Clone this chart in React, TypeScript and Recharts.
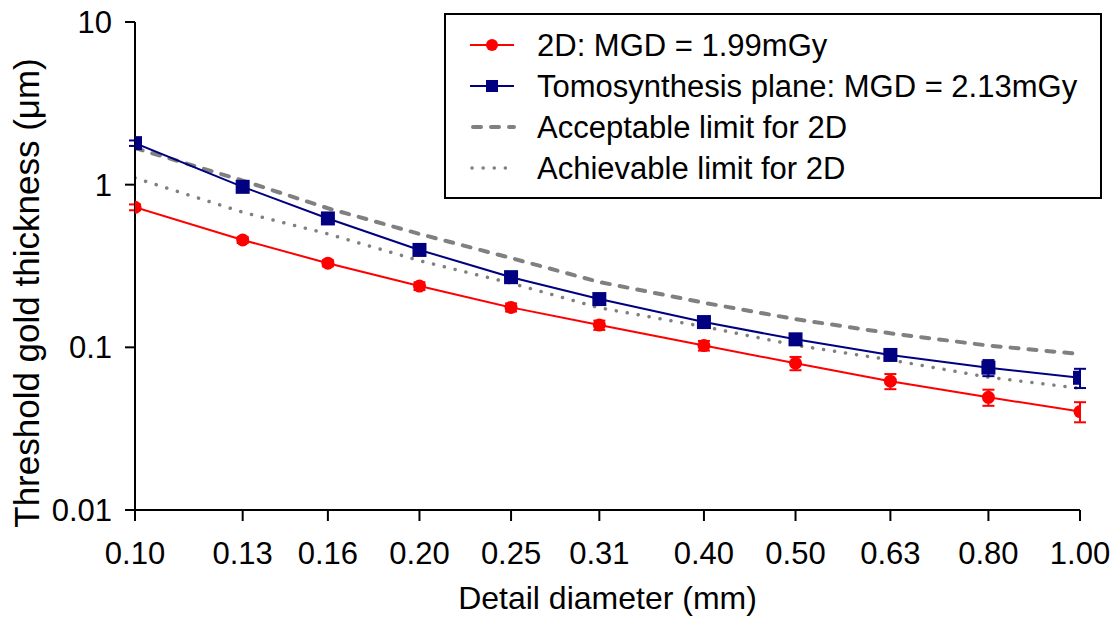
import React from 'react';
import { LineChart, Line, XAxis, YAxis, ErrorBar, Label } from 'recharts';

const diameters = [0.10, 0.13, 0.16, 0.20, 0.25, 0.31, 0.40, 0.50, 0.63, 0.80, 1.00];
const twoD = [0.726, 0.457, 0.329, 0.238, 0.176, 0.137, 0.1025, 0.0798, 0.0619, 0.0493, 0.0403];
const twoDErr = [0.03, 0.019, 0.014, 0.013, 0.010, 0.009, 0.007, 0.0075, 0.0066, 0.0056, 0.0057];
const tomo = [1.80, 0.97, 0.62, 0.397, 0.270, 0.198, 0.143, 0.112, 0.0898, 0.075, 0.065];
const tomoErr = [0.07, 0.04, 0.025, 0.016, 0.011, 0.0085, 0.0075, 0.0063, 0.0064, 0.0085, 0.0088];
const acceptable = [1.68, 1.06, 0.716, 0.498, 0.354, 0.252, 0.188, 0.149, 0.122, 0.1025, 0.091];
const achievable = [1.10, 0.677, 0.498, 0.341, 0.248, 0.175, 0.134, 0.103, 0.0837, 0.0655, 0.056];
const xTicks = [0.10, 0.13, 0.16, 0.20, 0.25, 0.31, 0.40, 0.50, 0.63, 0.80, 1.00];
const yTicks = [0.01, 0.1, 1, 10];

const legendNames = [
  '2D: MGD = 1.99mGy',
  'Tomosynthesis plane: MGD = 2.13mGy',
  'Acceptable limit for 2D',
  'Achievable limit for 2D',
];

const data = diameters.map((d, i) => ({
  d,
  twoD: twoD[i],
  twoDErr: twoDErr[i],
  tomo: tomo[i],
  tomoErr: tomoErr[i],
  acceptable: acceptable[i],
  achievable: achievable[i],
}));

const FONT = '"Liberation Sans", Arial, sans-serif';
const RED = '#FF0000';
const NAVY = '#000080';
const GRAY = '#808080';

const SquareDot = (props: any) => {
  const { cx, cy, index } = props;
  if (cx == null || cy == null) return null;
  return <rect key={`sq-${index}`} x={cx - 7} y={cy - 7} width={14} height={14} fill={NAVY} />;
};

const LEG_X = 445;
const LEG_Y = 14;
const LEG_W = 656;
const LEG_H = 184;
const ROW0 = 45;
const ROW_STEP = 41;

const LegendSvg = () => (
  <g>
    <rect x={LEG_X} y={LEG_Y} width={LEG_W} height={LEG_H} fill="#fff" stroke="#000" strokeWidth={2} />
    {legendNames.map((n, i) => {
      const y = ROW0 + i * ROW_STEP;
      const x1 = 470;
      const x2 = 514;
      let icon: React.ReactNode = null;
      if (i === 0) {
        icon = (
          <g>
            <line x1={x1} y1={y} x2={x2} y2={y} stroke={RED} strokeWidth={2} />
            <circle cx={492} cy={y} r={6} fill={RED} />
          </g>
        );
      } else if (i === 1) {
        icon = (
          <g>
            <line x1={x1} y1={y} x2={x2} y2={y} stroke={NAVY} strokeWidth={2} />
            <rect x={486} y={y - 6} width={12} height={12} fill={NAVY} />
          </g>
        );
      } else if (i === 2) {
        icon = (
          <line x1={x1 + 3} y1={y} x2={x2} y2={y} stroke={GRAY} strokeWidth={4} strokeDasharray="8 10" strokeLinecap="round" />
        );
      } else {
        icon = (
          <line x1={x1 + 2} y1={y} x2={x2} y2={y} stroke={GRAY} strokeWidth={3.5} strokeDasharray="0.1 11" strokeLinecap="round" />
        );
      }
      return (
        <g key={n}>
          {icon}
          <text
            x={537}
            y={y}
            dominantBaseline="central"
            style={{ fill: '#000', fontSize: 31, fontFamily: FONT }}
          >
            {n}
          </text>
        </g>
      );
    })}
  </g>
);

export default function App() {
  return (
    <div style={{ position: 'absolute', left: 0, top: 0, background: '#fff' }}>
      <LineChart
        width={1115}
        height={619}
        data={data}
        margin={{ top: 22, right: 35, bottom: 0, left: 0 }}
      >
        <XAxis
          dataKey="d"
          type="number"
          scale="log"
          domain={[0.1, 1]}
          ticks={xTicks}
          allowDataOverflow
          tickFormatter={(v: number) => v.toFixed(2)}
          height={109}
          stroke="#000"
          strokeWidth={2}
          tickSize={11}
          tickMargin={21}
          tick={{ fill: '#000', fontSize: 31, fontFamily: FONT }}
          interval={0}
        >
          <Label
            value="Detail diameter (mm)"
            position="insideBottom"
            offset={10}
            style={{ fill: '#000', fontSize: 32, fontFamily: FONT }}
          />
        </XAxis>
        <YAxis
          type="number"
          scale="log"
          domain={[0.01, 10]}
          ticks={yTicks}
          allowDataOverflow
          tickFormatter={(v: number) => String(v)}
          width={135}
          stroke="#000"
          strokeWidth={2}
          tickSize={10}
          tickMargin={13}
          tick={{ fill: '#000', fontSize: 31, fontFamily: FONT }}
          interval={0}
        >
          <Label
            content={() => (
              <text
                x={26}
                y={293}
                transform="rotate(-90 26 293)"
                textAnchor="middle"
                dominantBaseline="central"
                style={{ fill: '#000', fontSize: 35, fontFamily: FONT }}
              >
                Threshold gold thickness (μm)
              </text>
            )}
          />
        </YAxis>
        <Line
          dataKey="acceptable"
          stroke={GRAY}
          strokeWidth={4}
          strokeDasharray="8 10"
          strokeLinecap="round"
          dot={false}
          isAnimationActive={false}
        />
        <Line
          dataKey="achievable"
          stroke={GRAY}
          strokeWidth={3.5}
          strokeDasharray="0.1 11"
          strokeLinecap="round"
          dot={false}
          isAnimationActive={false}
        />
        <Line
          dataKey="twoD"
          stroke={RED}
          strokeWidth={2}
          dot={{ r: 6.5, fill: RED, stroke: RED, strokeWidth: 0 }}
          isAnimationActive={false}
        >
          <ErrorBar dataKey="twoDErr" direction="y" width={6} stroke={RED} strokeWidth={2} />
        </Line>
        <Line
          dataKey="tomo"
          stroke={NAVY}
          strokeWidth={2}
          dot={SquareDot}
          isAnimationActive={false}
        >
          <ErrorBar dataKey="tomoErr" direction="y" width={6} stroke={NAVY} strokeWidth={2} />
        </Line>
        <LegendSvg />
      </LineChart>
    </div>
  );
}
